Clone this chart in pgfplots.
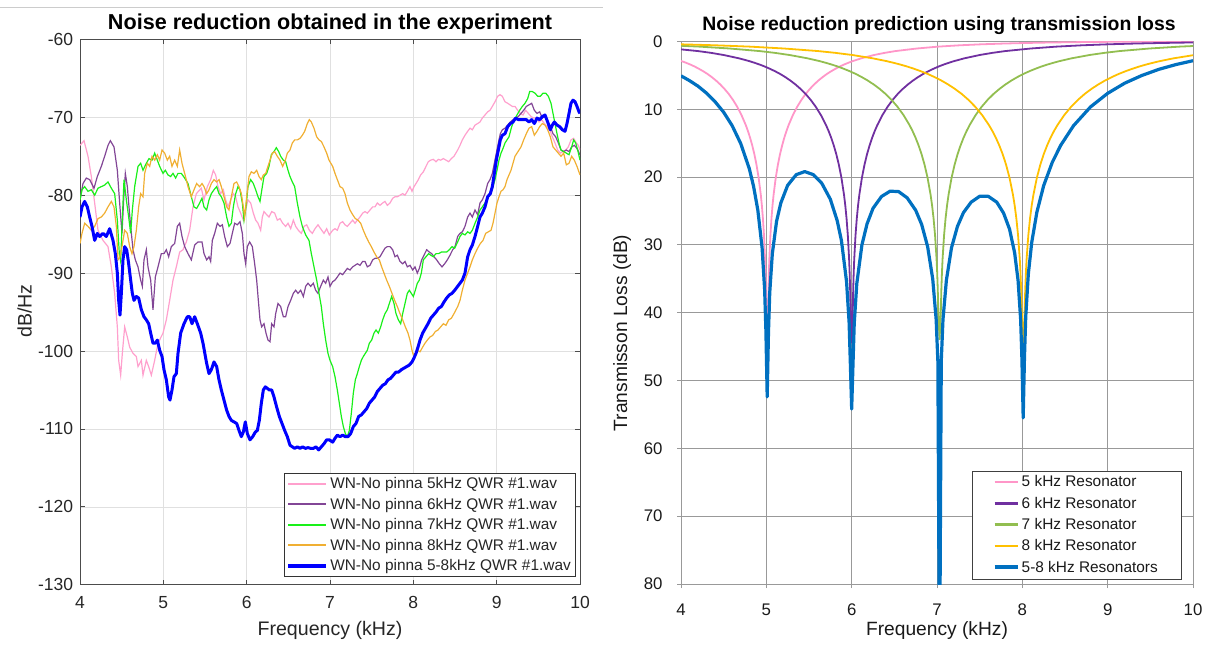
\documentclass[border=0pt]{standalone}
\usepackage{fontspec}
\setmainfont{Liberation Sans}
\usepackage{pgfplots}
\pgfplotsset{compat=1.18}
\definecolor{Lpink}{RGB}{255,160,205}
\definecolor{Lpurple}{RGB}{130,70,150}
\definecolor{Lgreen}{RGB}{25,240,25}
\definecolor{Lorange}{RGB}{240,175,50}
\definecolor{Lblue}{RGB}{0,0,255}
\definecolor{Rpink}{RGB}{255,150,200}
\definecolor{Rpurple}{RGB}{112,48,160}
\definecolor{Rgreen}{RGB}{146,190,80}
\definecolor{Ryellow}{RGB}{255,192,0}
\definecolor{Rblue}{RGB}{0,112,192}
\begin{document}
\begin{tikzpicture}
\path[use as bounding box] (0pt,0pt) rectangle (1210pt,-645pt);
\draw[black!20, line width=0.8pt] (0pt,-7.5pt) -- (603pt,-7.5pt);
% ---------------- LEFT ----------------
\begin{axis}[
  at={(80pt,-584.7pt)}, anchor=south west,
  scale only axis, width=500pt, height=545.3pt,
  xmin=4, xmax=10, ymin=-130, ymax=-60,
  xtick={4,5,...,10}, ytick={-130,-120,...,-60},
  tick pos=both, tick align=inside, major tick length=5pt,
  grid=major, major grid style={black!12, line width=0.6pt},
  axis line style={black!70, line width=0.7pt},
  tick style={black!70, line width=0.7pt},
  /pgf/number format/assume math mode=true,
  every tick label/.append style={font=\fontsize{17.5}{17.5}\selectfont, text=black!85},
  xticklabel style={anchor=base, inner sep=0pt, yshift=-24pt},
  yticklabel style={anchor=east, inner sep=0pt, xshift=-6.7pt},
  legend style={at={(1,0)}, anchor=south east, xshift=-5pt, yshift=8pt,
    draw=black!80, fill=white, font=\fontsize{15.4}{15.4}\selectfont, text=black!85,
    inner xsep=2pt, inner ysep=2.5pt, row sep=3.8pt,
    cells={anchor=west}},
  legend image code/.code={\draw[#1, line width=\pgflinewidth+0.5pt] (0pt,0pt) -- (38pt,0pt);},
]
\addplot[Lpink, line width=1.2pt] coordinates {
(4.000,-73.6)(4.048,-73.0)(4.096,-75.0)(4.136,-77.6)(4.176,-81.0)(4.216,-84.5)(4.276,-85.8)(4.336,-86.6)(4.376,-89.2)(4.416,-92.6)(4.448,-96.9)(4.464,-101.2)(4.488,-103.1)(4.508,-100.3)(4.536,-96.9)(4.568,-98.2)(4.596,-99.5)(4.636,-100.3)(4.676,-100.7)(4.696,-102.0)(4.736,-101.2)(4.756,-103.1)(4.796,-101.2)(4.824,-102.0)(4.856,-103.1)(4.896,-101.2)(4.936,-99.0)(4.996,-97.7)(5.036,-96.0)(5.076,-93.5)(5.116,-90.9)(5.156,-89.2)(5.196,-87.3)(5.236,-87.0)(5.276,-86.0)(5.316,-84.5)(5.356,-81.5)(5.396,-79.8)(5.456,-79.1)
(5.488,-80.6)(5.528,-78.9)(5.568,-78.0)(5.600,-76.8)(5.628,-77.4)(5.656,-78.9)(5.688,-79.8)(5.720,-79.3)(5.748,-80.6)(5.776,-81.5)(5.808,-80.6)(5.840,-79.8)(5.868,-80.2)(5.896,-81.5)(5.928,-82.3)(5.960,-83.2)(5.988,-81.9)(6.016,-80.6)(6.048,-81.0)(6.080,-82.3)(6.108,-83.2)(6.136,-83.6)(6.168,-84.5)(6.188,-82.8)(6.208,-82.1)(6.240,-82.5)(6.268,-82.8)(6.300,-82.1)(6.336,-82.3)(6.368,-83.2)(6.400,-83.0)(6.432,-83.6)(6.468,-84.0)(6.496,-83.6)(6.528,-84.3)(6.560,-83.2)(6.588,-84.0)(6.620,-84.5)(6.656,-84.9)(6.688,-84.0)(6.720,-83.8)(6.752,-84.5)(6.788,-84.9)(6.820,-84.3)(6.856,-83.8)(6.888,-84.3)(6.928,-84.9)(6.960,-84.3)(6.992,-85.1)
(7.032,-84.5)(7.060,-84.3)(7.088,-84.5)(7.120,-83.6)(7.152,-83.4)(7.180,-83.8)(7.208,-84.0)(7.240,-83.6)(7.272,-83.2)(7.300,-83.6)(7.328,-83.2)(7.360,-82.8)(7.392,-82.3)(7.420,-82.1)(7.448,-82.3)(7.480,-81.9)(7.512,-81.5)(7.540,-81.5)(7.568,-81.0)(7.600,-81.3)(7.632,-81.0)(7.660,-80.8)(7.688,-81.3)(7.720,-81.0)(7.752,-80.4)(7.780,-80.2)(7.808,-80.2)(7.840,-80.0)(7.872,-79.8)(7.900,-80.0)(7.928,-79.5)(7.960,-78.9)(7.984,-79.5)(8.008,-78.9)(8.032,-78.5)(8.060,-78.0)(8.088,-77.4)(8.120,-77.0)(8.152,-76.3)(8.180,-75.7)(8.208,-75.5)(8.240,-75.4)(8.272,-75.7)(8.300,-75.4)(8.328,-75.5)(8.360,-75.3)(8.392,-75.5)(8.424,-75.7)(8.456,-75.3)(8.488,-75.0)
(8.532,-74.2)(8.560,-73.6)(8.588,-72.9)(8.620,-72.3)(8.652,-71.8)(8.680,-71.4)(8.708,-71.6)(8.740,-71.0)(8.772,-70.8)(8.800,-70.6)(8.828,-70.1)(8.860,-69.7)(8.892,-69.3)(8.920,-69.1)(8.948,-68.6)(8.980,-68.0)(9.012,-67.3)(9.040,-67.1)(9.068,-67.3)(9.100,-68.0)(9.132,-68.2)(9.160,-68.4)(9.188,-68.6)(9.220,-68.6)(9.252,-69.1)(9.284,-69.5)(9.316,-69.7)(9.348,-69.1)(9.380,-69.5)(9.412,-69.9)(9.444,-70.1)(9.476,-70.1)(9.508,-70.6)(9.540,-70.3)(9.572,-70.8)(9.604,-71.2)(9.636,-71.6)(9.668,-72.5)(9.700,-73.3)(9.732,-74.2)(9.764,-74.6)(9.796,-74.4)(9.828,-74.2)(9.860,-73.8)(9.892,-72.9)(9.924,-72.7)(9.956,-73.3)(9.980,-73.6)(10.000,-74.2)
};
\addlegendentry{WN-No pinna 5kHz QWR \#1.wav}
\addplot[Lpurple, line width=1.2pt] coordinates {
(4.000,-80.6)(4.036,-78.5)(4.076,-77.8)(4.116,-78.0)(4.168,-79.1)(4.208,-77.6)(4.256,-76.3)(4.296,-75.0)(4.336,-73.6)(4.364,-73.0)(4.408,-73.8)(4.448,-76.8)(4.476,-81.0)(4.504,-84.9)(4.524,-80.6)(4.544,-77.2)(4.568,-78.9)(4.584,-81.0)(4.608,-84.0)(4.636,-87.0)(4.664,-88.3)(4.696,-89.2)(4.728,-90.9)(4.748,-91.7)(4.768,-88.3)(4.796,-87.0)(4.816,-89.2)(4.848,-90.9)(4.876,-94.7)(4.904,-90.5)(4.936,-89.2)(4.976,-87.5)(5.008,-87.5)(5.036,-87.0)(5.064,-87.9)(5.096,-86.6)(5.136,-86.2)(5.168,-84.0)(5.196,-83.6)(5.224,-85.3)(5.256,-86.6)(5.296,-87.5)(5.336,-88.3)(5.376,-86.4)(5.416,-86.0)(5.464,-86.0)
(5.488,-87.5)(5.520,-88.3)(5.548,-87.9)(5.568,-88.5)(5.588,-85.8)(5.616,-84.9)(5.648,-83.6)(5.680,-84.0)(5.708,-83.8)(5.736,-85.3)(5.768,-86.6)(5.800,-86.2)(5.828,-84.9)(5.856,-83.6)(5.888,-83.8)(5.920,-83.4)(5.948,-84.9)(5.968,-87.5)(5.988,-88.8)(6.008,-86.6)(6.036,-86.0)(6.068,-86.6)(6.096,-88.8)(6.120,-90.9)(6.140,-93.5)(6.160,-96.0)(6.180,-96.9)(6.208,-96.5)(6.232,-97.7)(6.256,-98.6)(6.280,-98.8)(6.300,-96.5)(6.328,-96.9)(6.348,-95.2)(6.376,-93.9)(6.408,-94.3)(6.440,-95.6)(6.468,-95.6)(6.496,-94.3)(6.528,-93.5)(6.560,-92.6)(6.588,-92.2)(6.616,-92.6)(6.648,-92.2)(6.680,-93.0)(6.708,-91.7)(6.736,-91.3)(6.768,-91.7)(6.800,-91.3)(6.828,-92.2)(6.856,-92.6)(6.888,-91.7)(6.920,-90.9)(6.948,-91.3)(6.976,-90.5)
(7.000,-91.7)(7.032,-91.1)(7.060,-90.9)(7.088,-90.5)(7.120,-90.0)(7.152,-90.2)(7.180,-89.8)(7.208,-89.4)(7.240,-89.6)(7.272,-89.2)(7.300,-89.0)(7.328,-88.8)(7.360,-89.0)(7.392,-88.5)(7.420,-88.5)(7.448,-89.2)(7.480,-89.0)(7.512,-88.3)(7.540,-88.1)(7.568,-88.1)(7.600,-87.9)(7.632,-87.3)(7.660,-86.8)(7.688,-86.6)(7.720,-86.6)(7.752,-87.0)(7.780,-87.9)(7.808,-87.7)(7.840,-88.5)(7.872,-88.8)(7.900,-88.5)(7.928,-89.2)(7.960,-89.0)(7.992,-89.6)(8.020,-89.2)(8.048,-90.0)(8.072,-89.4)(8.100,-88.3)(8.128,-87.7)(8.160,-87.0)(8.192,-87.3)(8.220,-87.5)(8.248,-87.9)(8.280,-88.3)(8.312,-88.8)(8.344,-89.2)(8.376,-88.8)(8.408,-88.3)(8.440,-87.7)(8.472,-87.0)(8.500,-86.6)
(8.532,-85.3)(8.560,-84.9)(8.588,-84.7)(8.620,-84.0)(8.652,-82.8)(8.680,-82.3)(8.708,-82.8)(8.740,-81.9)(8.772,-82.5)(8.800,-81.0)(8.828,-80.6)(8.860,-79.8)(8.892,-78.5)(8.920,-78.0)(8.948,-77.2)(8.972,-75.9)(8.996,-74.6)(9.020,-73.3)(9.044,-72.1)(9.068,-71.6)(9.100,-71.4)(9.132,-71.0)(9.164,-70.6)(9.196,-70.3)(9.228,-70.1)(9.260,-69.9)(9.292,-69.5)(9.324,-69.1)(9.356,-68.6)(9.388,-68.4)(9.420,-68.2)(9.452,-69.1)(9.484,-69.5)(9.516,-69.3)(9.548,-70.1)(9.580,-69.9)(9.612,-70.6)(9.644,-71.2)(9.676,-72.1)(9.708,-72.5)(9.740,-73.3)(9.772,-74.2)(9.804,-74.4)(9.836,-74.2)(9.868,-74.4)(9.900,-73.8)(9.932,-73.6)(9.964,-74.0)(10.000,-74.8)
};
\addlegendentry{WN-No pinna 6kHz QWR \#1.wav}
\addplot[Lgreen, line width=1.2pt] coordinates {
(4.000,-80.6)(4.024,-79.3)(4.056,-78.9)(4.096,-79.5)(4.136,-79.3)(4.176,-80.0)(4.216,-79.1)(4.256,-78.9)(4.296,-78.7)(4.336,-78.3)(4.376,-79.1)(4.416,-79.8)(4.448,-83.2)(4.472,-87.5)(4.488,-88.5)(4.504,-84.0)(4.528,-78.0)(4.556,-80.6)(4.584,-82.8)(4.608,-84.9)(4.628,-81.9)(4.656,-78.9)(4.696,-76.3)(4.728,-75.9)(4.756,-76.8)(4.796,-75.9)(4.828,-75.3)(4.864,-75.5)(4.896,-74.6)(4.928,-75.5)(4.956,-76.3)(4.996,-77.2)(5.024,-76.8)(5.056,-77.4)(5.088,-77.6)(5.116,-77.2)(5.148,-77.8)(5.176,-77.2)(5.216,-77.2)(5.256,-77.8)(5.296,-78.5)(5.336,-80.2)(5.368,-81.5)(5.400,-81.7)(5.436,-81.0)(5.464,-80.4)
(5.488,-81.5)(5.520,-81.9)(5.548,-80.6)(5.576,-79.8)(5.608,-79.3)(5.640,-78.9)(5.668,-79.8)(5.696,-80.2)(5.728,-81.0)(5.760,-82.8)(5.788,-84.0)(5.816,-83.6)(5.840,-81.5)(5.868,-79.8)(5.896,-78.9)(5.920,-79.3)(5.948,-81.0)(5.968,-83.2)(5.992,-81.5)(6.016,-78.9)(6.048,-78.0)(6.080,-78.5)(6.108,-79.3)(6.136,-80.2)(6.160,-80.8)(6.188,-78.9)(6.208,-77.6)(6.240,-77.2)(6.268,-76.3)(6.296,-74.8)(6.328,-74.4)(6.356,-73.9)(6.384,-74.4)(6.408,-75.0)(6.440,-75.5)(6.468,-75.7)(6.496,-76.8)(6.520,-77.6)(6.548,-78.3)(6.576,-78.9)(6.608,-81.0)(6.640,-82.8)(6.668,-84.0)(6.708,-85.1)(6.748,-85.8)(6.776,-87.5)(6.808,-89.2)(6.840,-90.9)(6.868,-92.6)(6.896,-94.3)(6.920,-96.5)(6.948,-98.6)(6.976,-100.3)
(7.000,-101.2)(7.032,-102.0)(7.060,-103.3)(7.088,-105.0)(7.112,-106.7)(7.136,-108.4)(7.160,-109.7)(7.184,-110.6)(7.208,-111.0)(7.232,-110.2)(7.256,-108.0)(7.280,-105.4)(7.304,-103.7)(7.328,-102.9)(7.352,-102.0)(7.376,-101.2)(7.400,-100.7)(7.424,-100.3)(7.448,-99.9)(7.472,-99.0)(7.500,-98.6)(7.528,-97.7)(7.552,-97.3)(7.580,-97.7)(7.608,-96.9)(7.632,-96.0)(7.660,-95.2)(7.688,-94.7)(7.712,-93.9)(7.740,-93.0)(7.768,-93.9)(7.792,-95.2)(7.820,-96.0)(7.848,-96.5)(7.872,-95.2)(7.900,-93.9)(7.928,-92.6)(7.952,-92.2)(7.976,-92.6)(8.000,-93.0)(8.024,-92.2)(8.048,-91.3)(8.072,-90.9)(8.096,-90.0)(8.120,-88.3)(8.152,-87.9)(8.184,-87.5)(8.208,-87.7)(8.240,-87.9)(8.272,-87.5)(8.304,-87.5)(8.336,-87.3)(8.368,-87.3)(8.400,-87.3)(8.432,-87.0)(8.464,-86.6)(8.496,-86.8)
(8.532,-86.0)(8.560,-85.3)(8.588,-84.9)(8.620,-85.1)(8.652,-84.7)(8.680,-84.9)(8.708,-84.5)(8.740,-83.6)(8.772,-82.8)(8.800,-81.9)(8.828,-81.5)(8.860,-81.0)(8.892,-80.4)(8.924,-79.8)(8.956,-78.9)(8.980,-78.0)(9.004,-76.8)(9.028,-75.5)(9.052,-74.6)(9.076,-74.0)(9.100,-73.3)(9.124,-72.9)(9.148,-72.5)(9.180,-71.2)(9.212,-70.3)(9.244,-69.7)(9.276,-69.1)(9.308,-68.6)(9.340,-68.2)(9.372,-67.6)(9.396,-66.7)(9.428,-66.7)(9.460,-66.9)(9.492,-67.3)(9.524,-67.3)(9.556,-66.9)(9.588,-66.9)(9.620,-67.3)(9.652,-68.2)(9.676,-69.5)(9.700,-70.8)(9.724,-72.1)(9.748,-73.3)(9.772,-74.2)(9.804,-74.4)(9.836,-74.6)(9.868,-74.8)(9.900,-73.8)(9.924,-72.9)(9.948,-73.3)(9.972,-74.2)(10.000,-75.5)
};
\addlegendentry{WN-No pinna 7kHz QWR \#1.wav}
\addplot[Lorange, line width=1.2pt] coordinates {
(4.000,-86.2)(4.024,-84.9)(4.056,-83.6)(4.096,-84.0)(4.136,-84.5)(4.176,-84.0)(4.216,-83.0)(4.256,-82.8)(4.296,-82.3)(4.336,-81.5)(4.376,-80.8)(4.408,-81.5)(4.436,-84.0)(4.456,-88.3)(4.476,-88.0)(4.504,-86.6)(4.536,-84.5)(4.568,-84.9)(4.596,-86.6)(4.624,-87.5)(4.648,-86.6)(4.676,-84.5)(4.704,-81.5)(4.728,-79.8)(4.756,-80.2)(4.776,-77.2)(4.808,-75.9)(4.836,-76.3)(4.864,-75.0)(4.896,-75.5)(4.928,-74.8)(4.956,-75.5)(4.984,-74.2)(5.016,-74.6)(5.048,-75.5)(5.076,-75.0)(5.104,-76.3)(5.136,-75.5)(5.168,-76.3)(5.196,-74.2)(5.224,-75.9)(5.256,-77.2)(5.296,-78.9)(5.336,-80.2)(5.368,-79.3)(5.400,-78.5)(5.436,-78.9)(5.464,-78.5)
(5.488,-78.9)(5.520,-79.8)(5.548,-79.3)(5.576,-78.5)(5.608,-78.0)(5.640,-78.3)(5.668,-78.0)(5.696,-78.9)(5.728,-80.2)(5.760,-81.5)(5.788,-81.9)(5.816,-80.2)(5.848,-78.5)(5.880,-78.3)(5.908,-78.9)(5.936,-79.8)(5.960,-81.5)(5.976,-82.8)(6.000,-80.2)(6.028,-77.6)(6.056,-77.0)(6.088,-77.2)(6.120,-76.8)(6.148,-77.6)(6.176,-78.0)(6.200,-77.4)(6.228,-77.2)(6.256,-76.3)(6.280,-75.5)(6.308,-74.6)(6.336,-74.4)(6.368,-75.0)(6.400,-75.5)(6.432,-76.3)(6.464,-75.5)(6.488,-74.6)(6.520,-74.2)(6.548,-73.3)(6.576,-72.9)(6.608,-72.9)(6.640,-72.7)(6.668,-72.3)(6.696,-71.8)(6.728,-70.8)(6.752,-70.3)(6.776,-70.6)(6.808,-71.4)(6.840,-72.5)(6.868,-72.9)(6.896,-73.1)(6.928,-73.8)(6.960,-74.6)(6.988,-75.5)
(7.032,-76.3)(7.060,-77.2)(7.088,-78.0)(7.120,-78.9)(7.152,-79.1)(7.180,-79.8)(7.208,-81.0)(7.240,-81.9)(7.272,-82.5)(7.304,-83.0)(7.336,-83.2)(7.368,-83.6)(7.400,-84.5)(7.432,-85.3)(7.464,-86.0)(7.496,-86.6)(7.528,-87.3)(7.560,-87.9)(7.592,-88.3)(7.620,-89.2)(7.648,-90.0)(7.680,-90.9)(7.712,-91.7)(7.744,-92.6)(7.776,-93.5)(7.808,-94.3)(7.840,-95.2)(7.872,-96.0)(7.904,-96.9)(7.936,-97.7)(7.960,-98.6)(7.984,-99.9)(8.000,-100.5)(8.024,-100.3)(8.048,-99.9)(8.080,-100.1)(8.112,-99.5)(8.140,-99.0)(8.168,-98.6)(8.200,-98.2)(8.232,-98.0)(8.264,-97.5)(8.296,-97.3)(8.328,-96.9)(8.360,-96.5)(8.392,-96.7)(8.424,-96.0)(8.456,-95.8)(8.488,-95.2)
(8.532,-94.3)(8.560,-93.5)(8.588,-92.2)(8.620,-90.9)(8.652,-90.0)(8.680,-89.2)(8.708,-88.3)(8.740,-87.5)(8.772,-86.8)(8.804,-86.2)(8.836,-85.8)(8.868,-84.9)(8.900,-84.7)(8.932,-84.5)(8.956,-83.6)(8.980,-82.3)(9.004,-81.0)(9.028,-80.2)(9.052,-79.5)(9.076,-79.3)(9.100,-78.9)(9.124,-78.0)(9.148,-77.4)(9.172,-76.8)(9.196,-75.9)(9.220,-75.0)(9.244,-74.6)(9.268,-74.2)(9.292,-73.8)(9.324,-72.9)(9.356,-72.1)(9.388,-71.4)(9.420,-71.2)(9.452,-72.3)(9.484,-71.8)(9.516,-71.2)(9.548,-70.8)(9.580,-71.0)(9.612,-71.6)(9.644,-72.5)(9.676,-73.8)(9.708,-74.2)(9.740,-74.6)(9.772,-75.0)(9.804,-74.6)(9.836,-76.1)(9.868,-75.9)(9.900,-75.0)(9.932,-75.5)(9.964,-76.3)(10.000,-77.4)
};
\addlegendentry{WN-No pinna 8kHz QWR \#1.wav}
\addplot[Lblue, line width=3pt, line join=round] coordinates {
(4.000,-82.8)(4.024,-81.5)(4.056,-80.8)(4.088,-81.5)(4.116,-82.8)(4.144,-84.0)(4.176,-85.8)(4.208,-84.9)(4.236,-85.3)(4.276,-84.9)(4.316,-85.3)(4.356,-84.3)(4.396,-85.8)(4.424,-87.5)(4.448,-90.0)(4.464,-93.5)(4.480,-95.4)(4.496,-92.6)(4.516,-88.3)(4.536,-86.6)(4.560,-87.0)(4.584,-88.8)(4.608,-90.9)(4.628,-92.6)(4.648,-93.5)(4.676,-93.0)(4.704,-93.2)(4.736,-94.7)(4.768,-95.6)(4.796,-96.0)(4.824,-96.5)(4.848,-97.7)(4.876,-99.0)(4.904,-99.0)(4.928,-98.6)(4.956,-99.9)(4.984,-100.7)(5.008,-102.4)(5.036,-103.7)(5.064,-105.9)(5.080,-106.3)(5.104,-105.0)(5.128,-103.3)(5.156,-102.9)(5.176,-100.3)(5.208,-97.7)(5.248,-96.5)(5.288,-95.6)(5.316,-95.6)(5.344,-96.5)(5.376,-95.6)(5.408,-96.5)(5.448,-97.7)(5.476,-99.0)
(5.520,-101.6)(5.548,-102.9)(5.576,-102.4)(5.608,-101.4)(5.640,-102.0)(5.668,-103.7)(5.696,-105.0)(5.728,-106.3)(5.760,-107.6)(5.788,-108.4)(5.816,-108.9)(5.848,-109.1)(5.880,-109.3)(5.908,-110.2)(5.936,-111.0)(5.960,-110.4)(5.984,-109.1)(6.008,-110.6)(6.040,-111.4)(6.072,-111.0)(6.104,-110.4)(6.128,-110.2)(6.152,-108.9)(6.176,-106.7)(6.200,-105.0)(6.224,-104.6)(6.248,-104.8)(6.272,-105.0)(6.300,-105.0)(6.328,-105.9)(6.360,-107.2)(6.392,-108.4)(6.424,-109.3)(6.456,-110.2)(6.488,-111.0)(6.520,-112.1)(6.548,-112.3)(6.576,-112.5)(6.608,-112.3)(6.640,-112.5)(6.672,-112.3)(6.704,-112.5)(6.736,-112.4)(6.768,-112.5)(6.800,-112.5)(6.832,-112.3)(6.864,-112.7)(6.896,-112.3)(6.928,-111.9)(6.960,-111.4)(6.992,-111.4)
(7.032,-111.7)(7.060,-111.2)(7.088,-110.8)(7.120,-111.0)(7.152,-110.8)(7.184,-111.0)(7.216,-111.0)(7.248,-110.6)(7.280,-109.7)(7.312,-109.3)(7.344,-108.4)(7.376,-108.2)(7.408,-107.8)(7.440,-107.4)(7.472,-106.7)(7.504,-106.3)(7.536,-105.9)(7.568,-105.2)(7.600,-104.8)(7.632,-104.4)(7.664,-104.2)(7.696,-103.7)(7.728,-103.5)(7.760,-103.1)(7.792,-102.7)(7.824,-102.7)(7.856,-102.4)(7.888,-102.2)(7.920,-102.0)(7.952,-101.8)(7.984,-101.4)(8.008,-100.9)(8.032,-100.3)(8.056,-99.5)(8.080,-98.6)(8.112,-97.7)(8.144,-97.1)(8.176,-96.5)(8.208,-95.8)(8.240,-95.4)(8.272,-95.0)(8.304,-94.5)(8.336,-94.3)(8.368,-93.7)(8.400,-93.2)(8.432,-92.8)(8.464,-92.6)(8.496,-92.2)
(8.532,-91.7)(8.560,-91.3)(8.588,-90.9)(8.620,-90.0)(8.652,-87.9)(8.680,-87.0)(8.708,-86.4)(8.740,-85.3)(8.772,-84.0)(8.800,-82.8)(8.828,-82.3)(8.860,-81.5)(8.892,-80.2)(8.924,-79.8)(8.948,-78.9)(8.972,-77.2)(8.996,-75.5)(9.020,-74.2)(9.044,-72.9)(9.068,-72.3)(9.100,-72.1)(9.132,-71.2)(9.164,-70.8)(9.196,-70.6)(9.228,-70.1)(9.260,-70.3)(9.292,-70.3)(9.324,-70.3)(9.356,-70.3)(9.388,-70.6)(9.420,-70.3)(9.452,-70.8)(9.484,-70.1)(9.516,-70.3)(9.548,-69.9)(9.580,-69.7)(9.612,-70.6)(9.644,-71.6)(9.668,-71.0)(9.692,-70.6)(9.724,-71.0)(9.756,-71.2)(9.788,-71.6)(9.820,-71.8)(9.844,-70.8)(9.868,-69.5)(9.892,-68.2)(9.916,-67.8)(9.940,-68.0)(9.964,-68.6)(9.988,-69.3)(10.000,-69.5)
};
\addlegendentry{WN-No pinna 5-8kHz QWR \#1.wav}
\end{axis}
\node[font=\bfseries\fontsize{21.6}{22}\selectfont, anchor=base] at (330pt,-29pt) {Noise reduction obtained in the experiment};
\node[font=\fontsize{19.6}{20}\selectfont, text=black!85, anchor=base] at (330pt,-635pt) {Frequency (kHz)};
\node[font=\fontsize{19.6}{20}\selectfont, text=black!85, anchor=base, rotate=90] at (31.5pt,-311pt) {dB/Hz};
% ---------------- RIGHT ----------------
\begin{axis}[
  at={(681pt,-584pt)}, anchor=south west,
  scale only axis, width=512pt, height=542.5pt,
  xmin=4, xmax=10, ymin=0, ymax=80, y dir=reverse,
  xtick={4,5,...,10}, ytick={0,10,...,80},
  tick pos=left, tick align=outside, major tick length=4pt,
  grid=major, major grid style={black!40, line width=1pt},
  axis line style={black!40, line width=1pt},
  tick style={black!40, line width=1pt},
  /pgf/number format/assume math mode=true,
  every tick label/.append style={font=\fontsize{16.8}{17}\selectfont, text=black!90},
  xticklabel style={anchor=base, inner sep=0pt, yshift=-27pt},
  yticklabel style={anchor=east, inner sep=0pt, xshift=-14.3pt},
  legend style={at={(1,0)}, anchor=south east, xshift=-12pt, yshift=5pt,
    draw=black!75, fill=white, font=\fontsize{15.4}{15.4}\selectfont, text=black!90,
    inner xsep=21pt, inner ysep=3pt, row sep=4.7pt,
    cells={anchor=west}},
  legend image code/.code={\draw[#1, line width=\pgflinewidth+0.4pt] (0pt,0pt) -- (23pt,0pt);},
]
\addplot[Rpink, line width=1.8pt] coordinates {
(4.0,2.86)(4.0581,3.13)(4.1082,3.39)(4.1583,3.68)(4.2084,4.01)(4.2585,4.37)(4.3086,4.77)(4.3587,5.23)(4.4088,5.74)(4.4589,6.32)(4.509,6.98)(4.5591,7.73)(4.6092,8.61)(4.6593,9.64)(4.7094,10.86)(4.7595,12.34)(4.7846,13.21)(4.8096,14.19)(4.8347,15.32)(4.8597,16.62)(4.8848,18.18)(4.9098,20.10)(4.9349,22.58)(4.9474,24.15)(4.9599,26.09)(4.9724,28.58)(4.985,32.10)(4.99,34.04)(4.995,36.54)(5.0,40.06)(5.01,44)
(5.02,40.06)(5.025,36.54)(5.03,34.04)(5.035,32.10)(5.0476,28.58)(5.0601,26.09)(5.0726,24.15)(5.0852,22.58)(5.1102,20.10)(5.1353,18.18)(5.1603,16.62)(5.1854,15.32)(5.2104,14.19)(5.2355,13.21)(5.2605,12.34)(5.3106,10.86)(5.3607,9.64)(5.4108,8.61)(5.4609,7.73)(5.511,6.98)(5.5611,6.32)(5.6112,5.74)(5.6613,5.23)(5.7114,4.77)(5.7615,4.37)(5.8116,4.01)(5.8617,3.68)(5.9118,3.39)(5.9619,3.13)(6.012,2.89)(6.1122,2.48)(6.2625,1.99)(6.3878,1.67)(6.513,1.41)(6.7635,1.03)(7.014,0.754)(7.2645,0.558)(7.515,0.414)(7.7655,0.306)(8.016,0.223)(8.2665,0.160)(8.517,0.111)(8.7675,0.074)(9.018,0.046)(9.2685,0.025)(9.519,0.011)(9.7695,0.003)(10.0,0.0)
};
\addlegendentry{5 kHz Resonator}
\addplot[Rpurple, line width=1.8pt] coordinates {
(4.0,1.16)(4.2,1.41)(4.35,1.67)(4.5,1.99)(4.68,2.48)(4.8,2.89)(4.86,3.13)(4.92,3.39)(4.98,3.68)(5.04,4.01)(5.1,4.37)(5.16,4.77)(5.22,5.23)(5.28,5.74)(5.34,6.32)(5.40,6.98)(5.46,7.73)(5.52,8.61)(5.58,9.64)(5.64,10.86)(5.70,12.34)(5.73,13.21)(5.76,14.19)(5.79,15.32)(5.82,16.62)(5.85,18.18)(5.88,20.10)(5.91,22.58)(5.925,24.15)(5.94,26.09)(5.955,28.58)(5.97,32.10)(5.976,34.04)(5.982,36.54)(5.988,40.06)(6.0,44.5)
(6.012,40.06)(6.018,36.54)(6.024,34.04)(6.03,32.10)(6.045,28.58)(6.06,26.09)(6.075,24.15)(6.09,22.58)(6.12,20.10)(6.15,18.18)(6.18,16.62)(6.21,15.32)(6.24,14.19)(6.27,13.21)(6.30,12.34)(6.36,10.86)(6.42,9.64)(6.48,8.61)(6.54,7.73)(6.60,6.98)(6.66,6.32)(6.72,5.74)(6.78,5.23)(6.84,4.77)(6.90,4.37)(6.96,4.01)(7.02,3.68)(7.08,3.39)(7.14,3.13)(7.2,2.89)(7.32,2.48)(7.5,1.99)(7.65,1.67)(7.8,1.41)(8.1,1.03)(8.4,0.754)(8.7,0.558)(9.0,0.414)(9.3,0.306)(9.6,0.223)(9.9,0.160)(10.0,0.144)
};
\addlegendentry{6 kHz Resonator}
\addplot[Rgreen, line width=1.8pt] coordinates {
(4.0,0.63)(4.218,0.754)(4.5695,1.03)(4.921,1.41)(5.0968,1.67)(5.2725,1.99)(5.4834,2.48)(5.624,2.89)(5.6943,3.13)(5.7646,3.39)(5.8349,3.68)(5.9052,4.01)(5.9755,4.37)(6.0458,4.77)(6.1161,5.23)(6.1864,5.74)(6.2567,6.32)(6.327,6.98)(6.3973,7.73)(6.4676,8.61)(6.5379,9.64)(6.6082,10.86)(6.6785,12.34)(6.7137,13.21)(6.7488,14.19)(6.784,15.32)(6.8191,16.62)(6.8543,18.18)(6.8894,20.10)(6.9246,22.58)(6.9421,24.15)(6.9597,26.09)(6.9773,28.58)(6.9949,32.10)(7.0019,34.04)(7.0089,36.54)(7.0159,40.06)(7.03,44)
(7.0441,40.06)(7.0511,36.54)(7.0581,34.04)(7.0652,32.10)(7.0827,28.58)(7.1003,26.09)(7.1179,24.15)(7.1355,22.58)(7.1706,20.10)(7.2058,18.18)(7.2409,16.62)(7.2761,15.32)(7.3112,14.19)(7.3464,13.21)(7.3815,12.34)(7.4518,10.86)(7.5221,9.64)(7.5924,8.61)(7.6627,7.73)(7.733,6.98)(7.8033,6.32)(7.8736,5.74)(7.9439,5.23)(8.0142,4.77)(8.0845,4.37)(8.1548,4.01)(8.2251,3.68)(8.2954,3.39)(8.3657,3.13)(8.436,2.89)(8.5766,2.48)(8.7875,1.99)(8.9633,1.67)(9.139,1.41)(9.4905,1.03)(9.842,0.754)(10.0,0.666)
};
\addlegendentry{7 kHz Resonator}
\addplot[Ryellow, line width=1.8pt] coordinates {
(4.0,0.413)(4.4055,0.558)(4.806,0.754)(5.2065,1.03)(5.607,1.41)(5.8073,1.67)(6.0075,1.99)(6.2478,2.48)(6.408,2.89)(6.4881,3.13)(6.5682,3.39)(6.6483,3.68)(6.7284,4.01)(6.8085,4.37)(6.8886,4.77)(6.9687,5.23)(7.0488,5.74)(7.1289,6.32)(7.209,6.98)(7.2891,7.73)(7.3692,8.61)(7.4493,9.64)(7.5294,10.86)(7.6095,12.34)(7.6496,13.21)(7.6896,14.19)(7.7297,15.32)(7.7697,16.62)(7.8098,18.18)(7.8498,20.10)(7.8899,22.58)(7.9099,24.15)(7.9299,26.09)(7.9499,28.58)(7.97,32.10)(7.978,34.04)(7.986,36.54)(7.994,40.06)(8.01,46.5)
(8.026,40.06)(8.034,36.54)(8.042,34.04)(8.05,32.10)(8.0701,28.58)(8.0901,26.09)(8.1101,24.15)(8.1302,22.58)(8.1702,20.10)(8.2103,18.18)(8.2503,16.62)(8.2904,15.32)(8.3304,14.19)(8.3705,13.21)(8.4105,12.34)(8.4906,10.86)(8.5707,9.64)(8.6508,8.61)(8.7309,7.73)(8.811,6.98)(8.8911,6.32)(8.9712,5.74)(9.0513,5.23)(9.1314,4.77)(9.2115,4.37)(9.2916,4.01)(9.3717,3.68)(9.4518,3.39)(9.5319,3.13)(9.612,2.89)(9.7722,2.48)(10.0,2.02)
};
\addlegendentry{8 kHz Resonator}
\addplot[Rblue, line width=3.2pt, line join=round] coordinates {
(4.0,5.06)(4.1,5.77)(4.2,6.59)(4.3,7.62)(4.4,8.89)(4.5,10.43)(4.6,12.42)(4.7,15.05)(4.8,18.74)(4.85,21.33)(4.9,24.84)(4.95,30.38)(4.98,36.57)(4.995,42.7)(5.01,52.4)(5.025,42.9)(5.04,37.0)(5.07,31.3)(5.12,26.5)(5.17,23.8)(5.25,21.2)(5.35,19.64)(5.45,19.18)(5.55,19.63)(5.65,20.91)(5.75,23.26)(5.83,26.40)(5.88,29.35)(5.94,35.40)(5.97,41.46)(5.985,47.7)(6.0,54.2)
(6.015,47.8)(6.03,41.6)(6.06,35.7)(6.12,30.0)(6.18,26.9)(6.25,24.6)(6.35,22.85)(6.45,22.07)(6.55,22.13)(6.65,23.05)(6.75,24.88)(6.82,26.97)(6.89,30.24)(6.95,35.03)(6.99,41.0)(7.01,47.1)(7.03,95)(7.05,47.1)(7.07,41.0)(7.11,35.2)(7.17,30.4)(7.24,27.25)(7.31,25.23)(7.40,23.69)(7.50,22.82)(7.60,22.82)(7.70,23.69)(7.78,25.30)(7.85,27.67)(7.91,31.18)(7.95,35.23)(7.98,40.97)(7.995,46.8)(8.01,55.5)
(8.025,46.55)(8.04,40.55)(8.07,34.32)(8.11,29.63)(8.17,25.19)(8.25,21.25)(8.35,17.84)(8.45,15.30)(8.6,12.41)(8.8,9.63)(9.0,7.64)(9.2,6.14)(9.4,5.01)(9.6,4.10)(9.8,3.40)(10.0,2.83)
};
\addlegendentry{5-8 kHz Resonators}
\end{axis}
\node[font=\bfseries\fontsize{19.4}{20}\selectfont, anchor=base] at (939pt,-30pt) {Noise reduction prediction using transmission loss};
\node[font=\fontsize{19.2}{20}\selectfont, text=black!90, anchor=base] at (937pt,-635pt) {Frequency (kHz)};
\node[font=\fontsize{19.2}{20}\selectfont, text=black!90, anchor=base, rotate=90] at (627pt,-333pt) {Transmisson Loss (dB)};
\end{tikzpicture}
\end{document}
